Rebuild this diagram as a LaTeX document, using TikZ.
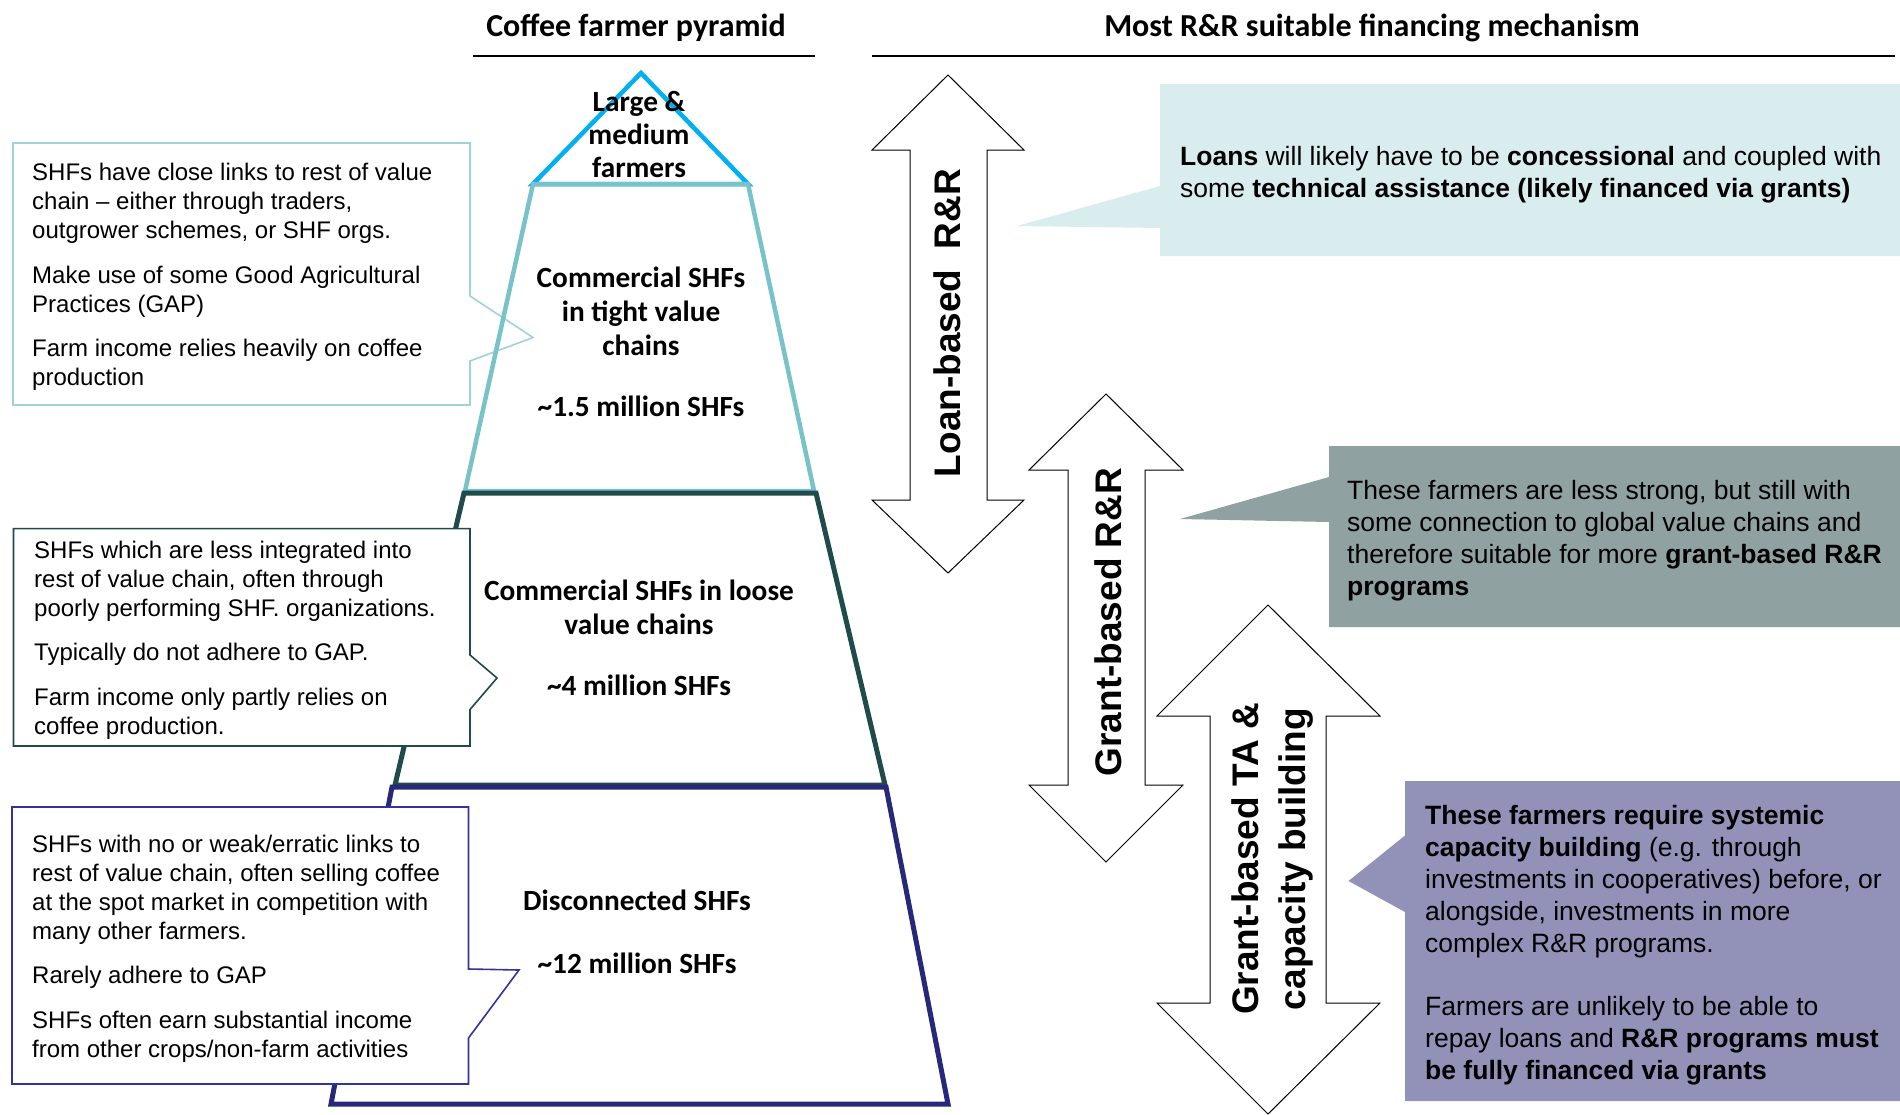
\documentclass[tikz,border=0pt]{standalone}
\usepackage{fontspec}
\setmainfont{Liberation Sans}
\newfontfamily\calfont{Carlito}
\definecolor{tierA}{HTML}{00B0F0}
\definecolor{tierB}{HTML}{78C2C9}
\definecolor{tierC}{HTML}{1F4B4B}
\definecolor{tierD}{HTML}{28287A}
\definecolor{boxA}{HTML}{9ED3D8}
\definecolor{boxC}{HTML}{1F4B4B}
\definecolor{boxD}{HTML}{3333A0}
\definecolor{fillL}{HTML}{DAEDEE}
\definecolor{fillG}{HTML}{8FA1A1}
\definecolor{fillP}{HTML}{9292B9}
\tikzset{
  boxtxt/.style={anchor=north west, inner sep=0pt, align=left, font=\fontsize{24}{29}\selectfont},
  rtxt/.style={anchor=north west, inner sep=0pt, align=left, font=\fontsize{26.5}{32}\selectfont},
  pyr/.style={anchor=north, inner sep=0pt, align=center, font=\calfont\bfseries\fontsize{29.3}{34}\selectfont},
  arrlbl/.style={rotate=90, inner sep=0pt, align=center, font=\bfseries\fontsize{37}{47}\selectfont},
  ttl/.style={inner sep=0pt, font=\calfont\bfseries\fontsize{32}{38}\selectfont},
  dblarrow/.style={draw=black, line width=1pt, fill=white, line join=miter},
  callbox/.style={line width=1.6pt, fill=white, line join=miter},
  tierline/.style={line width=4.5pt, line join=miter},
}
\begin{document}
\begin{tikzpicture}[x=1pt,y=-1pt]
\useasboundingbox (0,0) rectangle (1900,1114);
\fill[white] (0,0) rectangle (1900,1114);

% titles
\node[ttl] (t1) at (636,28) {Coffee farmer pyramid};
\node[ttl] (t2) at (1372,28) {Most R\&R suitable financing mechanism};
\draw[line width=2pt] (473,56) -- (815,56);
\draw[line width=2pt] (872,56) -- (1895,56);

% box 1 (behind pyramid)
\draw[callbox, draw=boxA] (13,143) -- (470,143) -- (470,296) -- (533,337.5) -- (470,361) -- (470,405) -- (13,405) -- cycle;

% pyramid
\draw[tierline, draw=tierA] (641,73) -- (748,184) -- (533,184) -- cycle;
\draw[tierline, draw=tierB] (533,184) -- (748,184) -- (814,491) -- (465,491) -- cycle;
\draw[tierline, draw=tierC, line width=5pt] (464,493) -- (816,493) -- (885,785) -- (395,785) -- cycle;
\draw[tierline, draw=tierD, line width=5pt] (392,787) -- (886,787) -- (948,1104) -- (331,1104) -- cycle;

% boxes 2 and 3 (in front)
\draw[callbox, draw=boxC] (13.5,528.6) -- (470,528.6) -- (470,655) -- (497,678) -- (470,709.5) -- (470,746) -- (13.5,746) -- cycle;
\draw[callbox, draw=boxD] (12,807) -- (468.5,807) -- (468.5,969) -- (519,970) -- (468.5,1038) -- (468.5,1084) -- (12,1084) -- cycle;

% box texts
\node[boxtxt] (b1a) at (32,160) {\strut SHFs have close links to rest of value\\chain -- either through traders,\\outgrower schemes, or SHF orgs.};
\node[boxtxt] (b1b) at (32,263) {\strut Make use of some Good Agricultural\\Practices (GAP)};
\node[boxtxt] (b1c) at (32,336) {\strut Farm income relies heavily on coffee\\production};

\node[boxtxt] (b2a) at (34,538) {\strut SHFs which are less integrated into\\rest of value chain, often through\\poorly performing SHF. organizations.};
\node[boxtxt] (b2b) at (34,640) {\strut Typically do not adhere to GAP.};
\node[boxtxt] (b2c) at (34,685) {\strut Farm income only partly relies on\\coffee production.};

\node[boxtxt] (b3a) at (32,832) {\strut SHFs with no or weak/erratic links to\\rest of value chain, often selling coffee\\at the spot market in competition with\\many other farmers.};
\node[boxtxt] (b3b) at (32,963) {\strut Rarely adhere to GAP};
\node[boxtxt] (b3c) at (32,1008) {\strut SHFs often earn substantial income\\from other crops/non-farm activities};

% pyramid labels
\node[pyr, font=\calfont\bfseries\fontsize{29.3}{33}\selectfont] (p1) at (639,88) {\strut Large \&\\medium\\farmers};
\node[pyr] (p2) at (641,263) {\strut Commercial SHFs\\in tight value\\chains};
\node[pyr] (p2n) at (641,392) {\strut\textasciitilde1.5 million SHFs};
\node[pyr] (p3) at (639,576) {\strut Commercial SHFs in loose\\value chains};
\node[pyr] (p3n) at (639,671) {\strut\textasciitilde4 million SHFs};
\node[pyr] (p4) at (637,886) {\strut Disconnected SHFs};
\node[pyr] (p4n) at (637,949) {\strut\textasciitilde12 million SHFs};

% right callouts
\fill[fillL] (1160,84) -- (1900,84) -- (1900,256) -- (1160,256) -- (1160,228) -- (1017,226) -- (1160,186) -- cycle;
\fill[fillG] (1329,446) -- (1900,446) -- (1900,627) -- (1329,627) -- (1329,522) -- (1180,519) -- (1329,477) -- cycle;
\fill[fillP] (1405,781) -- (1900,781) -- (1900,1101) -- (1405,1101) -- (1405,912) -- (1348.5,881) -- (1405,835.5) -- cycle;

\node[rtxt] (rl) at (1180,143) {\strut\textbf{Loans} will likely have to be \textbf{concessional} and coupled with\\some \textbf{technical assistance (likely financed via grants)}};
\node[rtxt] (rg) at (1347,477) {\strut These farmers are less strong, but still with\\some connection to global value chains and\\therefore suitable for more \textbf{grant-based R\&R}\\\textbf{programs}};
\node[rtxt] (rp1) at (1425,802) {\strut\textbf{These farmers require systemic}\\\textbf{capacity building} (e.g. through\\investments in cooperatives) before, or\\alongside, investments in more\\complex R\&R programs.};
\node[rtxt] (rp2) at (1425,993) {\strut Farmers are unlikely to be able to\\repay loans and \textbf{R\&R programs must}\\\textbf{be fully financed via grants}};

% double arrows
\draw[dblarrow] (948,75) -- (1024,150) -- (987,150) -- (987,500) -- (1024,500) -- (948,573) -- (872,500) -- (910,500) -- (910,150) -- (872,150) -- cycle;
\draw[dblarrow] (1106,394) -- (1183,470) -- (1145,470) -- (1145,785) -- (1183,785) -- (1106,862) -- (1029,785) -- (1068,785) -- (1068,470) -- (1029,470) -- cycle;
\draw[dblarrow] (1268,605) -- (1380,716) -- (1326,716) -- (1326,1003) -- (1380,1003) -- (1268,1114) -- (1157,1003) -- (1210,1003) -- (1210,716) -- (1157,716) -- cycle;

\node[arrlbl] (al) at (947,323) {Loan-based\ \ R\&R};
\node[arrlbl] (ag) at (1108,622) {Grant-based R\&R};
\node[arrlbl] (at) at (1272,859) {Grant-based TA \&\\capacity building};
\end{tikzpicture}
\end{document}
